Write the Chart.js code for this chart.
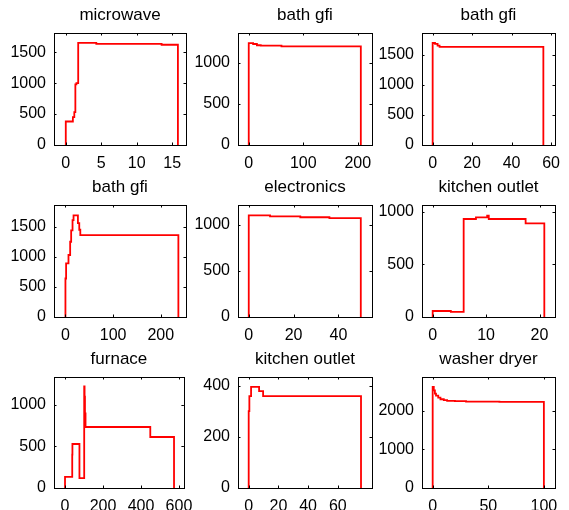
<!DOCTYPE html>
<html>
<head>
<meta charset="utf-8">
<script src="https://cdn.jsdelivr.net/npm/chart.js@4/dist/chart.umd.min.js"></script>
<style>
  html, body { margin: 0; padding: 0; background: #fff; }
  #fig { position: relative; width: 569px; height: 510px; overflow: hidden; }
  #fig canvas { position: absolute; }
</style>
</head>
<body>
<div id="fig"></div>
<script>
// titulos dos 9 paineis (linha por linha)
const titulos = ['microwave', 'bath gfi', 'bath gfi', 'bath gfi', 'electronics', 'kitchen outlet', 'furnace', 'kitchen outlet', 'washer dryer'];

// dados (degraus tipo stairs)
const microwaveX = [0, 0, 1.0, 1.2, 1.35, 1.5, 1.75, 4.3, 13.5, 15.8];
const microwaveY = [0, 380, 450, 530, 980, 1000, 1650, 1635, 1620, 0];

const bathGfi1X = [0, 0, 8, 15, 22, 60, 205.5];
const bathGfi1Y = [0, 1240, 1230, 1215, 1210, 1200, 0];

const bathGfi2X = [0, 0, 1.2, 2.5, 3.5, 56.1];
const bathGfi2Y = [0, 1695, 1680, 1650, 1630, 0];

const bathGfi3X = [0, 0, 1.4, 6.4, 9.9, 12, 14.9, 17, 26.2, 29, 31.2, 237];
const bathGfi3Y = [0, 640, 890, 1030, 1250, 1440, 1610, 1690, 1560, 1450, 1360, 0];

const electronicsX = [0, 0, 9.5, 23, 36, 50];
const electronicsY = [0, 1105, 1095, 1085, 1075, 0];

const kitchen1X = [0, 0, 3.4, 5.8, 8.1, 10.2, 10.5, 17.4, 20.9];
const kitchen1Y = [0, 57, 48, 930, 946, 962, 930, 889, 0];

const furnaceX = [0, 0, 38, 39, 76, 101, 103, 105, 108, 449, 574];
const furnaceY = [0, 133, 402, 530, 120, 1225, 1100, 900, 735, 614, 0];

const kitchen2X = [0, 0, 0.45, 1.6, 7, 9.7, 75.6];
const kitchen2Y = [0, 301, 360, 396, 380, 360, 0];

const washerX = [0, 0, 1, 2, 3, 5, 7, 10, 13, 20, 30, 60, 100];
const washerY = [0, 2618, 2532, 2446, 2395, 2343, 2300, 2275, 2258, 2249, 2240, 2232, 0];

const seriesX = [microwaveX, bathGfi1X, bathGfi2X, bathGfi3X, electronicsX, kitchen1X, furnaceX, kitchen2X, washerX];
const seriesY = [microwaveY, bathGfi1Y, bathGfi2Y, bathGfi3Y, electronicsY, kitchen1Y, furnaceY, kitchen2Y, washerY];

// limites dos eixos
const limX = [[-1.66, 16.94], [-19.7, 226], [-5.4, 62], [-24, 253], [-4.8, 55], [-2, 22.9], [-58, 626], [-7.2, 83], [-9.6, 110]];
const limY = [1810, 1364, 1861, 1861, 1218, 1063, 1337, 435, 2876];

// ticks
const ticksX = [[0, 5, 10, 15], [0, 100, 200], [0, 20, 40, 60], [0, 100, 200], [0, 20, 40], [0, 10, 20], [0, 200, 400, 600], [0, 20, 40, 60], [0, 50, 100]];
const ticksY = [[0, 500, 1000, 1500], [0, 500, 1000], [0, 500, 1000, 1500], [0, 500, 1000, 1500], [0, 500, 1000], [0, 500, 1000], [0, 500, 1000], [0, 200, 400], [0, 1000, 2000]];

// posicao das caixas na figura
const colEsq = [54, 238, 422];
const colLarg = [132, 134, 133];
const linTopo = [33, 205, 377];
const linAlt = [112, 112, 111];
const eixoY = 54, tituloAlt = 33, eixoX = 32, folgaDir = 16;

const fonte = { family: "'Liberation Sans', Arial, Helvetica, sans-serif", size: 16 };

// caixa preta com ticks pra dentro (estilo matlab)
const caixaMatlab = {
    id: 'caixaMatlab',
    afterDraw(chart) {
        const { ctx, chartArea: a, scales } = chart;
        const tam = 2.5;
        ctx.save();
        ctx.strokeStyle = '#000';
        ctx.lineWidth = 1;
        ctx.beginPath();
        scales.x.ticks.forEach(t => {
            const px = Math.round(scales.x.getPixelForValue(t.value)) + 0.5;
            ctx.moveTo(px, a.bottom); ctx.lineTo(px, a.bottom - tam);
            ctx.moveTo(px, a.top); ctx.lineTo(px, a.top + tam);
        });
        scales.y.ticks.forEach(t => {
            const py = Math.round(scales.y.getPixelForValue(t.value)) + 0.5;
            ctx.moveTo(a.left, py); ctx.lineTo(a.left + tam, py);
            ctx.moveTo(a.right, py); ctx.lineTo(a.right - tam, py);
        });
        ctx.stroke();
        ctx.strokeRect(Math.round(a.left) + 0.5, Math.round(a.top) + 0.5, Math.round(a.right - a.left), Math.round(a.bottom - a.top));
        ctx.restore();
    }
};

const fig = document.getElementById('fig');

for (let i = 0; i < 9; i++) {
    const lin = Math.floor(i / 3), col = i % 3;
    const cv = document.createElement('canvas');
    const w = eixoY + colLarg[col] + folgaDir;
    const h = tituloAlt + linAlt[lin] + eixoX;
    cv.width = w; cv.height = h;
    cv.style.width = w + 'px'; cv.style.height = h + 'px';
    cv.style.left = (colEsq[col] - eixoY) + 'px';
    cv.style.top = (linTopo[lin] - tituloAlt) + 'px';
    fig.appendChild(cv);

    const pontos = seriesX[i].map((x, k) => ({ x: x, y: seriesY[i][k] }));

    new Chart(cv.getContext('2d'), {
        type: 'line',
        data: {
            datasets: [{
                data: pontos,
                borderColor: '#ff0000',
                borderWidth: 1.8,
                pointRadius: 0,
                stepped: 'before',
                fill: false
            }]
        },
        options: {
            responsive: false,
            animation: false,
            events: [],
            layout: { padding: { left: 0, right: folgaDir, top: 0, bottom: 0 } },
            plugins: {
                legend: { display: false },
                tooltip: { enabled: false },
                title: {
                    display: true,
                    text: titulos[i],
                    fullSize: false,
                    color: '#000',
                    font: { family: fonte.family, size: 17, weight: 'normal', lineHeight: 1.2 },
                    padding: { top: 5, bottom: tituloAlt - 5 - 20.4 }
                }
            },
            scales: {
                x: {
                    type: 'linear',
                    min: limX[i][0],
                    max: limX[i][1],
                    afterBuildTicks: s => { s.ticks = ticksX[i].map(v => ({ value: v })); },
                    afterFit: s => { s.height = eixoX; },
                    grid: { display: false, drawTicks: false },
                    border: { display: false },
                    ticks: { autoSkip: false, maxRotation: 0, padding: 9, color: '#000', font: fonte, callback: v => String(v) }
                },
                y: {
                    type: 'linear',
                    min: 0,
                    max: limY[i],
                    afterBuildTicks: s => { s.ticks = ticksY[i].map(v => ({ value: v })); },
                    afterFit: s => { s.width = eixoY; },
                    grid: { display: false, drawTicks: false },
                    border: { display: false },
                    ticks: { autoSkip: false, padding: 8, color: '#000', font: fonte, callback: v => String(v) }
                }
            }
        },
        plugins: [caixaMatlab]
    });
}
</script>
</body>
</html>
